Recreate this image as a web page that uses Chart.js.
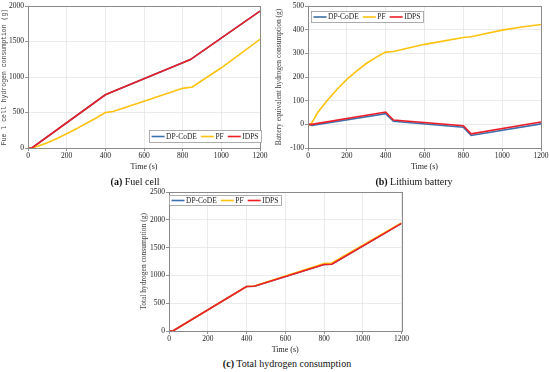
<!DOCTYPE html>
<html>
<head>
<meta charset="utf-8">
<script src="https://cdn.jsdelivr.net/npm/chart.js@4.4.1/dist/chart.umd.min.js"></script>
<style>
  html, body { margin: 0; padding: 0; background: #fff; }
  body { width: 550px; height: 372px; position: relative; overflow: hidden; font-family: "Liberation Serif", serif; }
  .box { position: absolute; }
  .cap { position: absolute; font-size: 10px; color: #111; white-space: nowrap; transform: translate(-50%, -50%); }
</style>
</head>
<body>
<div class="box" style="left:0;top:0;width:270px;height:172px"><canvas id="ca"></canvas></div>
<div class="box" style="left:275px;top:0;width:275px;height:172px"><canvas id="cb"></canvas></div>
<div class="box" style="left:140px;top:185px;width:270px;height:170px"><canvas id="cc"></canvas></div>
<div class="cap" style="left:135px;top:181px"><b>(a)</b> Fuel cell</div>
<div class="cap" style="left:414px;top:181px"><b>(b)</b> Lithium battery</div>
<div class="cap" style="left:287px;top:363px"><b>(c)</b> Total hydrogen consumption</div>
<script>
// ---- data ----
const seriesNames = ["DP-CoDE", "PF", "IDPS"];
const xTicks = [0, 200, 400, 600, 800, 1000, 1200];

// (a) Fuel cell hydrogen consumption
const fcTimeDP = [0, 20, 400, 440, 800, 840, 1200];
const fcDP     = [0, 0, 750, 795, 1200, 1245, 1928];
const fcTimePF = [0, 20, 50, 100, 150, 200, 250, 300, 350, 400, 440, 600, 800, 850, 1000, 1200];
const fcPF     = [0, 0, 25, 75, 135, 200, 270, 345, 420, 500, 515, 660, 840, 860, 1130, 1530];
const fcTimeID = [0, 20, 400, 440, 800, 840, 1200];
const fcID     = [0, 0, 750, 795, 1200, 1245, 1928];

// (b) Battery equivalent hydrogen consumption
const batTimePF = [0, 15, 50, 100, 150, 200, 250, 300, 350, 400, 440, 600, 800, 840, 1000, 1100, 1200];
const batPF     = [0, 0, 50, 102, 148, 190, 225, 257, 283, 305, 308, 338, 367, 370, 398, 411, 422];
const batTimeDP = [0, 20, 400, 440, 800, 840, 1200];
const batDP     = [0, -5, 45, 13, -12, -47, 2];
const batTimeID = [0, 20, 400, 440, 800, 840, 1200];
const batID     = [0, 0, 52, 18, -6, -40, 10];

// (c) Total hydrogen consumption
const totTime = [0, 20, 400, 440, 800, 840, 1200];
const totDP   = [0, 0, 800, 805, 1195, 1200, 1935];
const totPF   = [0, 0, 800, 808, 1212, 1222, 1945];
const totID   = [0, 0, 800, 805, 1195, 1200, 1935];

const colors = ["#3d6fae", "#ffc20e", "#ee1c25"];
const drawOrder = [3, 2, 1]; // IDPS on top

function pts(t, v) { return t.map((x, i) => ({ x: x, y: v[i] })); }

const SERIF = "'Liberation Serif', 'Times New Roman', serif";

const frame = {
  id: 'frame',
  afterDatasetsDraw(chart) {
    const a = chart.chartArea, ctx = chart.ctx;
    ctx.save();
    ctx.strokeStyle = '#8a8a8a';
    ctx.lineWidth = 1;
    ctx.strokeRect(Math.round(a.left) + 0.5, Math.round(a.top) + 0.5, Math.round(a.right - a.left), Math.round(a.bottom - a.top));
    ctx.restore();
  }
};

const boxLegend = {
  id: 'boxLegend',
  afterDraw(chart, args, opts) {
    const a = chart.chartArea, ctx = chart.ctx;
    ctx.save();
    ctx.font = "7.5px " + SERIF;
    const lineLen = 13, gap = 1.5, itemGap = 4, padX = 2.5;
    const items = chart.data.datasets.map(d => ({ label: d.label, color: d.borderColor, w: ctx.measureText(d.label).width }));
    let w = padX * 2;
    items.forEach((it, i) => { w += lineLen + gap + it.w + (i < items.length - 1 ? itemGap : 0); });
    const h = opts.h;
    let x0, y0;
    if (opts.anchor === 'br') { x0 = a.right + opts.dx - w; y0 = a.bottom + opts.dy - h; }
    else { x0 = a.left + opts.dx; y0 = a.top + opts.dy; }
    ctx.fillStyle = '#fff';
    ctx.fillRect(x0, y0, w, h);
    ctx.strokeStyle = '#9a9a9a';
    ctx.lineWidth = 0.8;
    ctx.strokeRect(x0 + 0.5, y0 + 0.5, w, h);
    let x = x0 + padX;
    const yc = y0 + h / 2 + 0.5;
    items.forEach(it => {
      ctx.strokeStyle = it.color;
      ctx.lineWidth = 1.6;
      ctx.beginPath(); ctx.moveTo(x, yc); ctx.lineTo(x + lineLen, yc); ctx.stroke();
      x += lineLen + gap;
      ctx.fillStyle = '#222';
      ctx.textBaseline = 'middle';
      ctx.fillText(it.label, x, yc + 0.5);
      x += it.w + itemGap;
    });
    ctx.restore();
  }
};

const tickFont = { family: SERIF, size: 7.5 };
const plain = (v) => String(v);

function makeChart(id, datasets, yMin, yMax, yStep, yTitle, yTitleFont, yWidth, pad, legendOpts) {
  return new Chart(document.getElementById(id), {
    type: 'line',
    data: { datasets: datasets },
    options: {
      responsive: true,
      maintainAspectRatio: false,
      animation: false,
      layout: { padding: pad },
      elements: { point: { radius: 0 }, line: { borderWidth: 1.6, tension: 0 } },
      plugins: { legend: { display: false }, tooltip: { enabled: false }, boxLegend: legendOpts },
      scales: {
        x: {
          type: 'linear', min: 0, max: 1200,
          afterBuildTicks: (ax) => { ax.ticks = xTicks.map(v => ({ value: v })); },
          ticks: { font: tickFont, color: '#222', padding: 1, maxRotation: 0, callback: plain },
          grid: { color: '#e6e6e6', lineWidth: 0.8, tickLength: 3, tickColor: '#777' },
          border: { color: '#8a8a8a' },
          title: { display: true, text: 'Time (s)', font: { family: SERIF, size: 8 }, color: '#222', padding: { top: 0, bottom: 0 } },
          afterFit: (ax) => { ax.height = 24; }
        },
        y: {
          min: yMin, max: yMax,
          ticks: { stepSize: yStep, font: tickFont, color: '#222', padding: 1, callback: plain },
          grid: { color: '#e6e6e6', lineWidth: 0.8, tickLength: 3, tickColor: '#777' },
          border: { color: '#8a8a8a' },
          title: { display: true, text: yTitle, font: yTitleFont, color: '#444', padding: { top: 0, bottom: 1 } },
          afterFit: (ax) => { ax.width = yWidth; }
        }
      }
    },
    plugins: [frame, boxLegend]
  });
}

function ds(i, data) {
  return { label: seriesNames[i], data: data, borderColor: colors[i], backgroundColor: colors[i], fill: false, order: drawOrder[i] };
}

makeChart('ca', [
  ds(0, pts(fcTimeDP, fcDP)),
  ds(1, pts(fcTimePF, fcPF)),
  ds(2, pts(fcTimeID, fcID))
], 0, 2000, 500, 'Fue l cell hydrogen consumption (g)', { family: "'Liberation Mono', monospace", size: 6.5 }, 28,
  { left: 0, top: 6, right: 10, bottom: 0 }, { anchor: 'br', dx: 1, dy: -6, h: 12 });

makeChart('cb', [
  ds(0, pts(batTimeDP, batDP)),
  ds(1, pts(batTimePF, batPF)),
  ds(2, pts(batTimeID, batID))
], -100, 500, 100, 'Battery equivalent hydrogen consumption (g)', { family: SERIF, size: 7.5 }, 33,
  { left: 0, top: 6, right: 9, bottom: 0 }, { anchor: 'tl', dx: 3, dy: 5, h: 11 });

makeChart('cc', [
  ds(0, pts(totTime, totDP)),
  ds(1, pts(totTime, totPF)),
  ds(2, pts(totTime, totID))
], 0, 2500, 500, 'Total hydrogen consumption (g)', { family: SERIF, size: 7.5 }, 29,
  { left: 0, top: 7, right: 8, bottom: 0 }, { anchor: 'tl', dx: 0, dy: 3, h: 10 });
</script>
</body>
</html>
